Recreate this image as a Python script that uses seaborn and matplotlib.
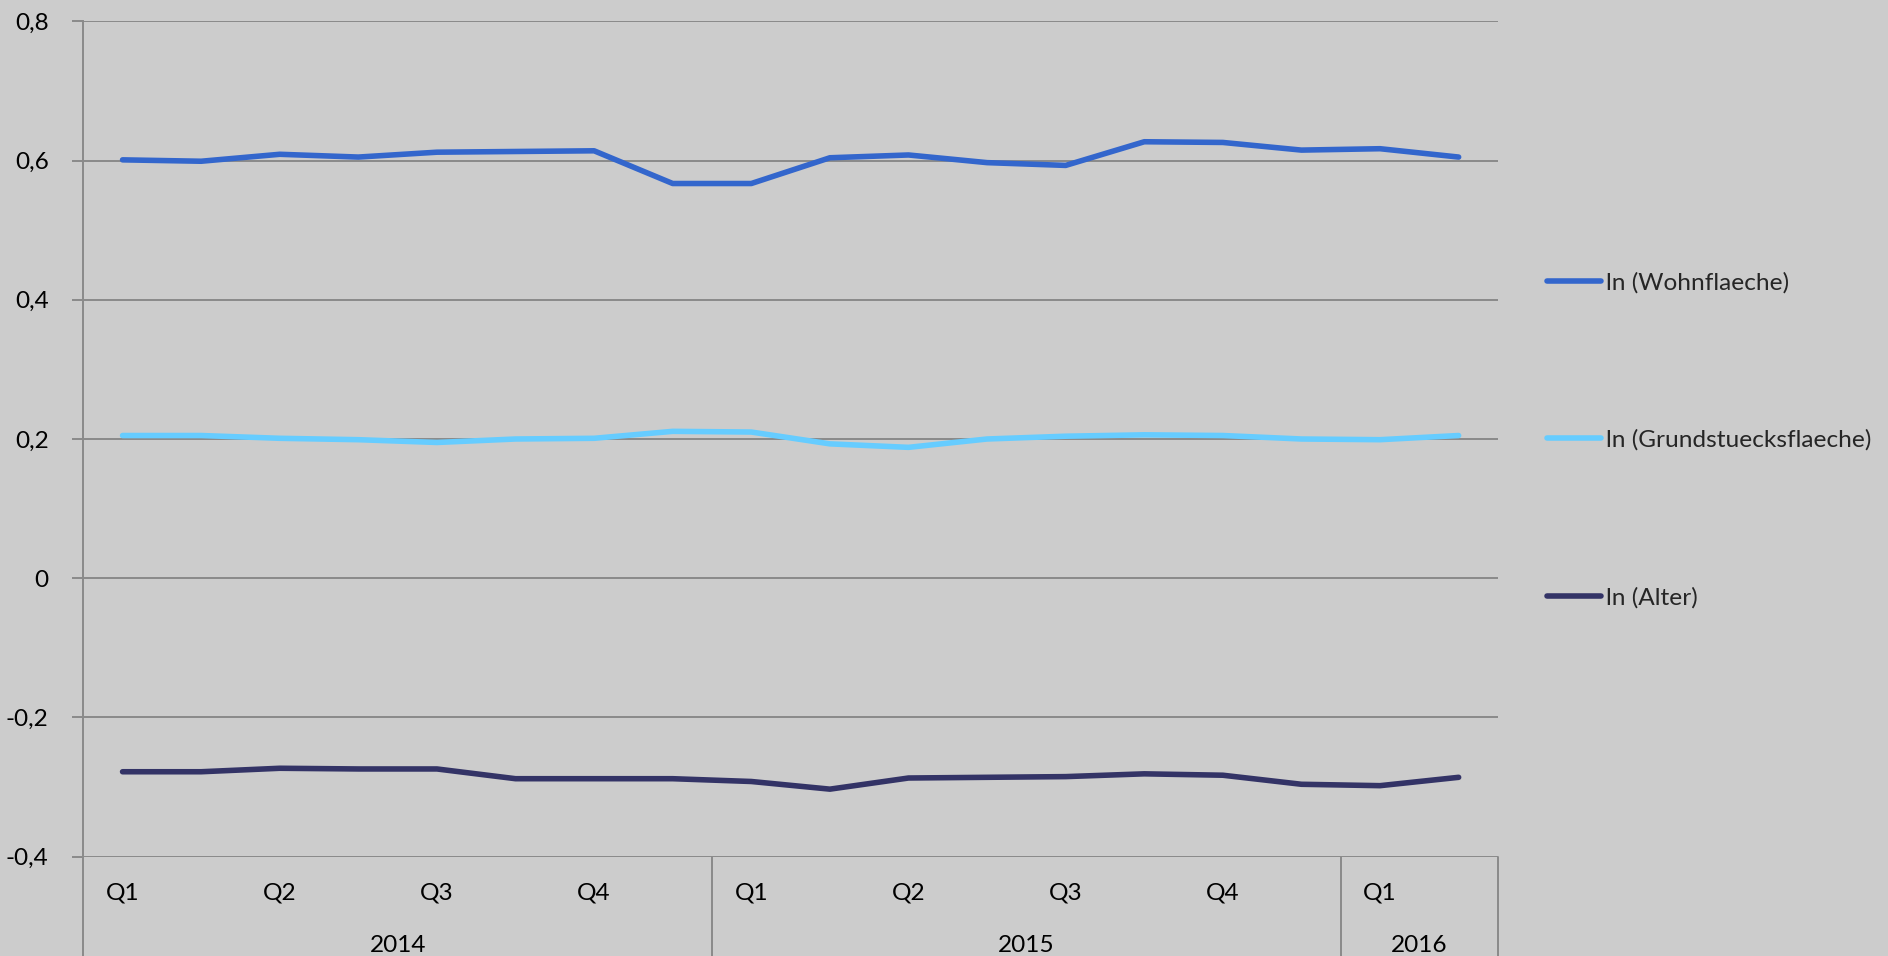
import matplotlib
matplotlib.use("Agg")
import matplotlib.pyplot as plt
import matplotlib.transforms as mtransforms
from matplotlib.lines import Line2D
import numpy as np
import pandas as pd
import seaborn as sns

# Period labels (two observations per quarter, label on the first of each pair)
quarter_labels = ["Q1", "", "Q2", "", "Q3", "", "Q4", "",
                  "Q1", "", "Q2", "", "Q3", "", "Q4", "",
                  "Q1", ""]
years = ["2014", "2015", "2016"]
year_lengths = [8, 8, 2]

# Coefficients per period
wohnflaeche = [0.601, 0.599, 0.609, 0.605, 0.612, 0.613, 0.614, 0.567, 0.567,
               0.604, 0.608, 0.597, 0.593, 0.627, 0.626, 0.615, 0.617, 0.605]
grundstuecksflaeche = [0.205, 0.205, 0.201, 0.199, 0.195, 0.200, 0.201, 0.211, 0.210,
                       0.193, 0.188, 0.200, 0.204, 0.206, 0.205, 0.200, 0.199, 0.205]
alter = [-0.278, -0.278, -0.273, -0.274, -0.274, -0.288, -0.288, -0.288, -0.292,
         -0.303, -0.287, -0.286, -0.285, -0.281, -0.283, -0.296, -0.298, -0.286]

series_names = ["ln (Wohnflaeche)", "ln (Grundstuecksflaeche)", "ln (Alter)"]
series_colors = ["#3366CC", "#66CCFF", "#333366"]
y_ticks = [0.8, 0.6, 0.4, 0.2, 0.0, -0.2, -0.4]
y_tick_labels = ["0,8", "0,6", "0,4", "0,2", "0", "-0,2", "-0,4"]

BG = "#CCCCCC"
GRID = "#8A8A8A"
LW = 4.0

sns.set_theme(style="white", rc={
    "figure.facecolor": BG,
    "axes.facecolor": BG,
    "savefig.facecolor": BG,
})
plt.rcParams["font.family"] = ["Lato", "DejaVu Sans"]
FS = 17.6

n = len(quarter_labels)
periods = np.arange(n)
df = pd.DataFrame({
    "period": np.tile(periods, 3),
    "value": wohnflaeche + grundstuecksflaeche + alter,
    "series": np.repeat(series_names, n),
})

fig = plt.figure(figsize=(18.88, 9.56), dpi=100)
ax = fig.add_axes([0.0441, 0.1039, 0.7493, 0.8738])

sns.lineplot(data=df, x="period", y="value", hue="series",
             hue_order=series_names, palette=series_colors,
             linewidth=LW, solid_capstyle="round", solid_joinstyle="round",
             legend=False, ax=ax, zorder=3)

ax.set_xlim(-0.5, n - 0.5)
ax.set_ylim(-0.4, 0.8)
ax.set_xlabel("")
ax.set_ylabel("")

# Horizontal gridlines
ax.set_yticks(y_ticks)
ax.set_yticklabels(y_tick_labels, fontsize=FS, color="black")
ax.yaxis.grid(True, color=GRID, linewidth=1.4, zorder=0)
ax.tick_params(axis="y", length=8, width=1.4, color=GRID, pad=17, left=True)
ax.set_xticks([])

for side in ["top", "right", "bottom"]:
    ax.spines[side].set_visible(False)
ax.spines["left"].set_color(GRID)
ax.spines["left"].set_linewidth(1.4)

# Two-level category axis below the plot
trans = mtransforms.blended_transform_factory(ax.transData, ax.transAxes)
bottom_y = -0.119
for i, lab in enumerate(quarter_labels):
    if lab:
        ax.text(i, -0.043, lab, transform=trans, ha="center", va="center",
                fontsize=FS, color="black")

start = 0
boundaries = [-0.5]
for yr, length in zip(years, year_lengths):
    center = start + (length - 1) / 2
    ax.text(center, -0.106, yr, transform=trans, ha="center", va="center",
            fontsize=FS, color="black")
    start += length
    boundaries.append(start - 0.5)

for b in boundaries:
    ax.plot([b, b], [0, bottom_y], transform=trans, color=GRID,
            linewidth=1.4, clip_on=False)

# Legend
handles = [Line2D([0], [0], color=c, linewidth=LW, solid_capstyle="round")
           for c in series_colors]
fig.legend(handles, series_names, loc="center left",
           bbox_to_anchor=(1547 / 1888, 1 - 440 / 956),
           frameon=False, fontsize=FS, handlelength=2.2,
           handletextpad=0.22, labelspacing=5.57, borderpad=0,
           borderaxespad=0)

fig.savefig("out.png", dpi=100, facecolor=BG)
